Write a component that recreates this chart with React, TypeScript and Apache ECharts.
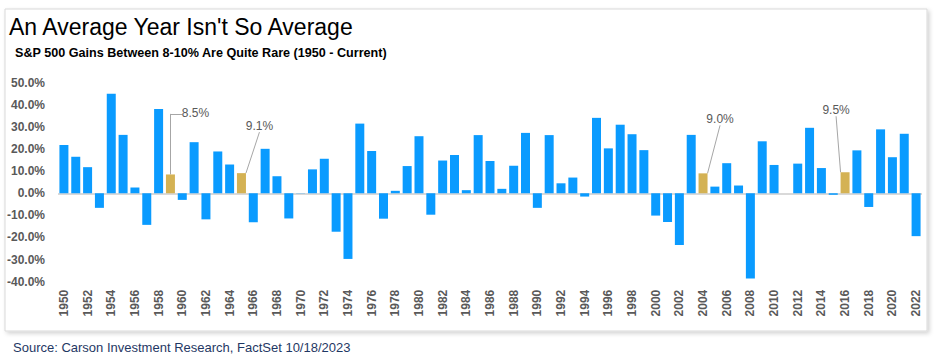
import React, { useEffect, useRef } from "react";
import * as echarts from "echarts";

const years: string[] = [];
for (let y = 1950; y <= 2022; y++) years.push(String(y));

const returns: number[] = [
  21.8, 16.5, 11.8, -6.6, 45.0, 26.4, 2.6, -14.3, 38.1, 8.5,
  -3.0, 23.1, -11.8, 18.9, 13.0, 9.1, -13.1, 20.1, 7.7, -11.4,
  0.1, 10.8, 15.6, -17.4, -29.7, 31.5, 19.1, -11.5, 1.1, 12.3,
  25.8, -9.7, 14.8, 17.3, 1.4, 26.3, 14.6, 2.0, 12.4, 27.3,
  -6.6, 26.3, 4.5, 7.1, -1.5, 34.1, 20.3, 31.0, 26.7, 19.5,
  -10.1, -13.0, -23.4, 26.4, 9.0, 3.0, 13.6, 3.5, -38.5, 23.5,
  12.8, 0.0, 13.4, 29.6, 11.4, -0.7, 9.5, 19.4, -6.2, 28.9,
  16.3, 26.9, -19.4,
];

const highlightYears = ["1959", "1965", "2004", "2016"];
const labelOffsets: Record<string, [number, number]> = {
  "1959": [25, -50],
  "1965": [18, -36],
  "2004": [17, -43],
  "2016": [-9, -51],
};
// elbow leader for the 1959 callout: [x index, y value] points
const elbowYear = "1959";
const elbowTopValue = 35.9;
const elbowEndIndex = 9.6;

const titleText = "An Average Year Isn't So Average";
const subtitleText = "S&P 500 Gains Between 8-10% Are Quite Rare (1950 - Current)";
const sourceText = "Source: Carson Investment Research, FactSet 10/18/2023";

const BLUE = "#0A9BFF";
const GOLD = "#D4B254";
const FONT = "'Liberation Sans', Arial, sans-serif";

export default function App() {
  const ref = useRef<HTMLDivElement>(null);
  useEffect(() => {
    if (!ref.current) return;
    const chart = echarts.init(ref.current, null, { renderer: "svg" });
    const elbowIdx = years.indexOf(elbowYear);
    const data = returns.map((v, i) => {
      const yr = years[i];
      const hl = highlightYears.includes(yr);
      return hl
        ? {
            value: v,
            itemStyle: { color: GOLD },
            label: {
              show: true,
              position: "top",
              formatter: (p: any) => p.value.toFixed(1) + "%",
              color: "#595959",
              fontSize: 12,
              fontFamily: FONT,
            },
            labelLine: {
              show: yr !== elbowYear,
              lineStyle: { color: "#A6A6A6", width: 1 },
            },
          }
        : { value: v };
    });
    chart.setOption({
      animation: false,
      backgroundColor: "#ffffff",
      textStyle: { fontFamily: FONT },
      graphic: [
        {
          type: "rect",
          z: -10,
          shape: { x: 5, y: 9, width: 922, height: 322 },
          style: {
            fill: "#ffffff",
            stroke: "#D9D9D9",
            lineWidth: 1,
            shadowColor: "rgba(0,0,0,0.18)",
            shadowBlur: 4,
            shadowOffsetX: 2,
            shadowOffsetY: 2,
          },
        },
        {
          type: "text",
          left: 9,
          top: 15,
          style: { text: titleText, fontSize: 23, fontFamily: FONT, fill: "#000000" },
        },
        {
          type: "text",
          left: 15,
          top: 46,
          style: { text: subtitleText, fontSize: 12.6, fontWeight: "bold", fontFamily: FONT, fill: "#000000" },
        },
        {
          type: "text",
          left: 13,
          top: 341,
          style: { text: sourceText, fontSize: 13, fontFamily: FONT, fill: "#1F3864" },
        },
      ],
      grid: { left: 58, right: 14, top: 82.7, bottom: 78.3, containLabel: false },
      xAxis: {
        type: "category",
        data: years,
        axisLine: { show: false, onZero: false },
        axisTick: { show: false },
        axisLabel: {
          interval: 1,
          rotate: 90,
          margin: 8,
          fontSize: 12,
          fontWeight: "bold",
          color: "#595959",
          fontFamily: FONT,
        },
      },
      yAxis: {
        type: "value",
        min: -40,
        max: 50,
        interval: 10,
        axisLine: { show: false },
        axisTick: { show: false },
        splitLine: { show: false },
        axisLabel: {
          formatter: (v: number) => v.toFixed(1) + "%",
          fontSize: 12,
          fontWeight: "bold",
          color: "#595959",
          margin: 13,
          fontFamily: FONT,
        },
      },
      series: [
        {
          type: "bar",
          data,
          barCategoryGap: "24%",
          itemStyle: { color: BLUE },
          labelLayout: (p: any) => {
            const yr = years[p.dataIndex];
            const o = labelOffsets[yr];
            if (!o) return {};
            return { dx: o[0], dy: o[1] };
          },
          markLine: {
            silent: true,
            symbol: "none",
            label: { show: false },
            lineStyle: { color: "#D9D9D9", width: 2, type: "solid" },
            data: [
              { yAxis: 0 },
              [
                { coord: [elbowIdx, returns[elbowIdx]], lineStyle: { color: "#A6A6A6", width: 1 } },
                { coord: [elbowIdx, elbowTopValue] },
              ],
              [
                { coord: [elbowIdx, elbowTopValue], lineStyle: { color: "#A6A6A6", width: 1 } },
                { coord: [elbowEndIndex, elbowTopValue] },
              ],
            ],
            z: 1,
          },
        },
      ],
    });
    return () => chart.dispose();
  }, []);
  return (
    <div
      ref={ref}
      style={{ position: "absolute", left: 0, top: 0, width: 936, height: 360 }}
    />
  );
}
